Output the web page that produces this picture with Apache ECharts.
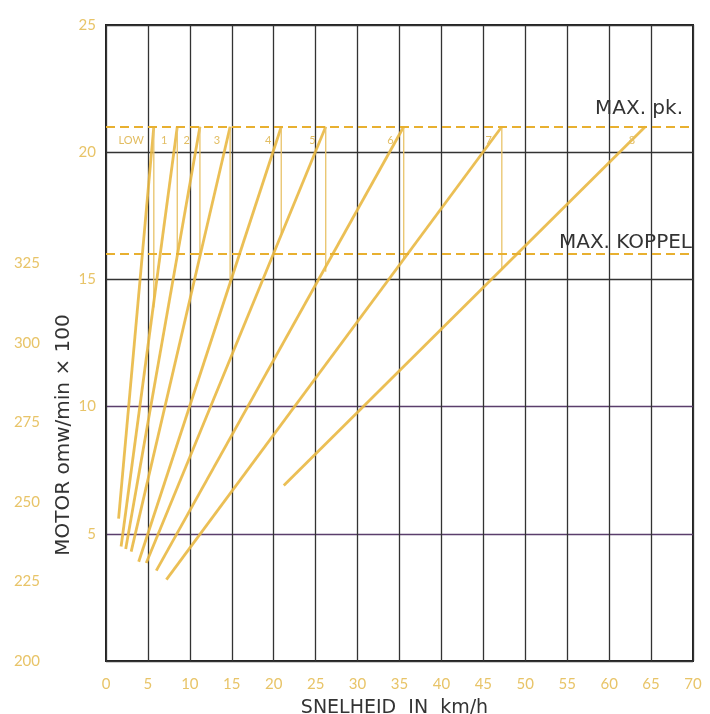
<!DOCTYPE html>
<html>
<head>
<meta charset="utf-8">
<script src="https://cdn.jsdelivr.net/npm/echarts@6/dist/echarts.min.js"></script>
<style>html,body{margin:0;padding:0;background:#fff}#c{width:710px;height:714px}</style>
</head>
<body>
<div id="c"></div>
<script>
// Data
var gears      = ['LOW','1','2','3','4','5','6','7','8'];
var startSpeed = [1.5, 1.8, 2.35, 3.0, 3.9, 4.8, 6.0, 7.2, 21.2];
var startRpm   = [5.6, 4.5, 4.4, 4.3, 3.9, 3.85, 3.55, 3.2, 6.9];
var topSpeed   = [5.7, 8.5, 11.2, 14.8, 20.9, 26.2, 35.5, 47.2, 64.3];
var maxRpm     = 21;           // MAX. pk.
var maxTorque  = 16;           // MAX. KOPPEL
var shiftRpm   = [13.9, 16.0, 15.9, 14.9, 16.8, 15.3, 15.8, 15.4];
var labelRpm   = 20.45;
var xTicks = {min:0, max:70, interval:5};
var yTicks = {min:0, max:25, interval:5};
var y2Ticks = {min:200, max:400, interval:25, lastShown:325};

var gold = '#e9b843';
var pale = '#e9c46c';
var series = [];
gears.forEach(function(g, i){
  series.push({
    type:'line', name:'gear '+g, symbol:'none', silent:true,
    data:[[startSpeed[i], startRpm[i]], [topSpeed[i], maxRpm]],
    lineStyle:{color:gold, width:2.8, opacity:0.9},
    markPoint:{
      silent:true, symbol:'circle', symbolSize:0,
      itemStyle:{color:'transparent'},
      label:{show:true, position:'left', distance:10, formatter:g, color:'#e2bd62',
             fontSize:11, fontFamily:'Lato'},
      data:[{coord:[topSpeed[i], labelRpm]}]
    }
  });
  if (i < shiftRpm.length) {
    series.push({
      type:'line', name:'shift '+g, symbol:'none', silent:true,
      data:[[topSpeed[i], maxRpm], [topSpeed[i], shiftRpm[i]]],
      lineStyle:{color:pale, width:1.4, opacity:0.95}
    });
  }
});
series.push({
  type:'line', data:[], symbol:'none',
  markLine:{
    silent:true, symbol:'none',
    lineStyle:{color:'#e8b030', type:[9,5], width:2},
    label:{show:false},
    data:[{yAxis:maxRpm},{yAxis:maxTorque}]
  }
});

var chart = echarts.init(document.getElementById('c'));
chart.setOption({
  animation:false,
  backgroundColor:'#fff',
  grid:{left:106, right:17, top:25, bottom:53, show:true, borderColor:'#222', borderWidth:2,
        backgroundColor:'transparent', outerBoundsMode:'none', containLabel:false},
  xAxis:{
    type:'value', min:xTicks.min, max:xTicks.max, interval:xTicks.interval,
    axisLine:{show:false}, axisTick:{show:false},
    axisLabel:{color:'#e8c468', fontSize:15, fontFamily:'Lato', margin:16},
    splitLine:{show:true, lineStyle:{color:'#333', width:1.3}},
    name:'SNELHEID  IN  km/h', nameLocation:'middle', nameGap:38,
    nameTextStyle:{color:'#333', fontSize:19, fontFamily:'DejaVu Sans', padding:[0,10,0,0]}
  },
  yAxis:[{
    type:'value', min:yTicks.min, max:yTicks.max, interval:yTicks.interval,
    axisLine:{show:false}, axisTick:{show:false},
    axisLabel:{color:'#e8c468', fontSize:15, fontFamily:'Lato', margin:10,
      formatter:function(v){ return v===0 ? '' : v; }},
    splitLine:{show:true, lineStyle:{color:['#333','#5a3e6c','#5a3e6c','#333','#333','#333'], width:1.3}}
  },{
    type:'value', position:'left', offset:56,
    min:y2Ticks.min, max:y2Ticks.max, interval:y2Ticks.interval,
    axisLine:{show:false}, axisTick:{show:false}, splitLine:{show:false},
    axisLabel:{color:'#e8c468', fontSize:15, fontFamily:'Lato', margin:10,
      formatter:function(v){ return v<=y2Ticks.lastShown ? v : ''; }}
  }],
  graphic:[
    {type:'text', x:64, y:435, rotation:Math.PI/2,
     style:{text:'MOTOR omw/min × 100', fill:'#333', font:'20px "DejaVu Sans"', align:'center', verticalAlign:'middle'}},
    {type:'text', x:683, y:109,
     style:{text:'MAX. pk.', fill:'#333', font:'20px "DejaVu Sans"', align:'right', verticalAlign:'middle'}},
    {type:'text', x:692, y:243,
     style:{text:'MAX. KOPPEL', fill:'#333', font:'20px "DejaVu Sans"', align:'right', verticalAlign:'middle'}}
  ],
  series:series
});
</script>
</body>
</html>
